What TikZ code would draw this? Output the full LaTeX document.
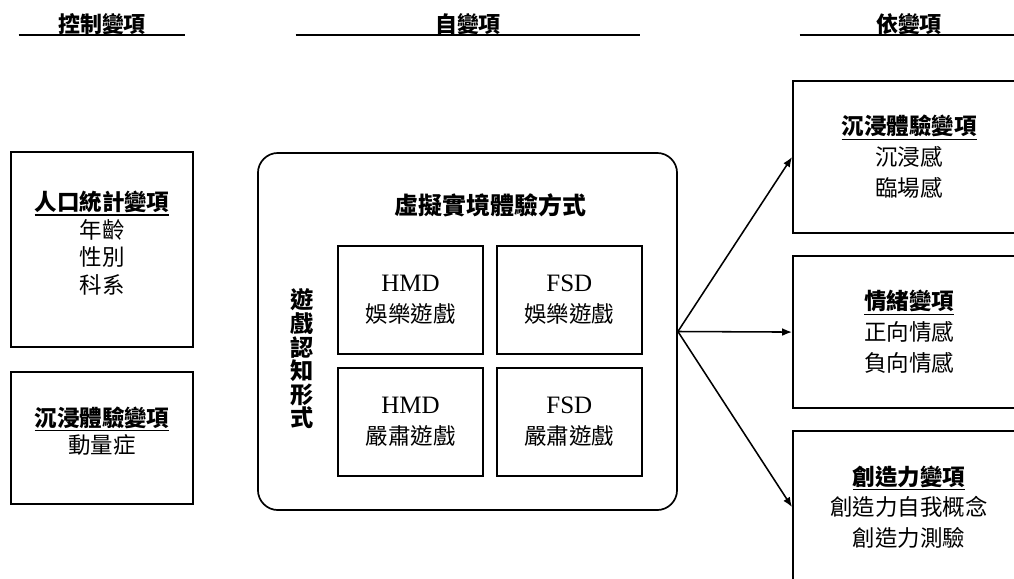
\documentclass[tikz,border=0pt]{standalone}
\usepackage{fontspec}
\setmainfont{Noto Sans CJK TC}
\newfontfamily\latinserif{Liberation Serif}
\usepackage{tikz}
\usetikzlibrary{positioning,arrows.meta}

% bold, underlined heading inside a variable box
\newcommand{\varhead}[1]{\setbox0\hbox{\bfseries #1}\rlap{\rule[-3.4pt]{\wd0}{0.8pt}}\box0}
\newcommand{\devname}[1]{{\latinserif\fontsize{17.8}{22}\selectfont #1}}

\begin{document}
\begin{tikzpicture}[x=0.025cm, y=-0.025cm, >={Latex[length=7pt,width=5.5pt]}, text centered]
  % Styles
  \tikzstyle{header}=[font=\fontsize{15.6}{18}\selectfont\bfseries, inner sep=0pt, anchor=south]
  \tikzstyle{rule}=[line width=1pt]
  \tikzstyle{varbox}=[rectangle, draw, line width=1.3pt, minimum width=4.55cm, align=center, font=\fontsize{16}{19.5}\selectfont]
  \tikzstyle{outcome}=[rectangle, draw, line width=1.3pt, minimum width=5.8cm, minimum height=3.8cm, align=center, font=\fontsize{16}{22}\selectfont]
  \tikzstyle{vrframe}=[rectangle, rounded corners=0.5cm, draw, line width=1.2pt, minimum width=10.475cm, minimum height=8.925cm]
  \tikzstyle{cond}=[rectangle, draw, line width=1.3pt, minimum width=3.625cm, minimum height=2.7cm, align=center, font=\fontsize{16}{22}\selectfont]
  \tikzstyle{link}=[->, line width=1.1pt]

  \useasboundingbox (0,0) rectangle (1014,579);

  % Column headers
  \node[header, minimum width=4.15cm] (ctrlhead) at (102,35) {控制變項};
  \node[header, minimum width=8.6cm] (ivhead) at (468,35) {自變項};
  \node[header, minimum width=5.45cm] (dvhead) at (909,35) {依變項};
  \draw[rule] (ctrlhead.south west) -- (ctrlhead.south east);
  \draw[rule] (ivhead.south west) -- (ivhead.south east);
  \draw[rule] (dvhead.south west) -- (dvhead.south east);

  % Control variables
  \node[varbox, minimum height=4.875cm, text depth=10.5pt] (demo) at (102,249.5) {\varhead{人口統計變項}\\年齡\\性別\\科系};
  \node[varbox, minimum height=3.3cm, text depth=11pt, below=0.58cm of demo] (sickness) {\varhead{沉浸體驗變項}\\動量症};

  % VR experience conditions
  \node[vrframe] (vr) at (467.5,331.5) {};
  \node[font=\fontsize{17}{20}\selectfont\bfseries] (vrtitle) at (490.5,205) {虛擬實境體驗方式};
  \node[font=\fontsize{16.5}{16.8}\selectfont\bfseries, align=center] (gamemode) at (302,359) {遊\\戲\\認\\知\\形\\式};
  \node[cond] (hmdfun) at (410.5,300) {\devname{HMD}\\娛樂遊戲};
  \node[cond, right=0.3cm of hmdfun] (fsdfun) {\devname{FSD}\\娛樂遊戲};
  \node[cond, below=0.3cm of hmdfun] (hmdser) {\devname{HMD}\\嚴肅遊戲};
  \node[cond, below=0.3cm of fsdfun] (fsdser) {\devname{FSD}\\嚴肅遊戲};

  % Dependent variables
  \node[outcome] (immersion) at (909,157) {\varhead{沉浸體驗變項}\\沉浸感\\臨場感};
  \node[outcome, below=0.53cm of immersion] (emotion) {\varhead{情緒變項}\\正向情感\\負向情感};
  \node[outcome, below=0.53cm of emotion] (creativity) {\varhead{創造力變項}\\創造力自我概念\\創造力測驗};

  % Arrows
  \draw[link] (vr.east) -- (immersion.west);
  \draw[link] (vr.east) -- (emotion.west);
  \draw[link] (vr.east) -- (creativity.west);
\end{tikzpicture}
\end{document}
